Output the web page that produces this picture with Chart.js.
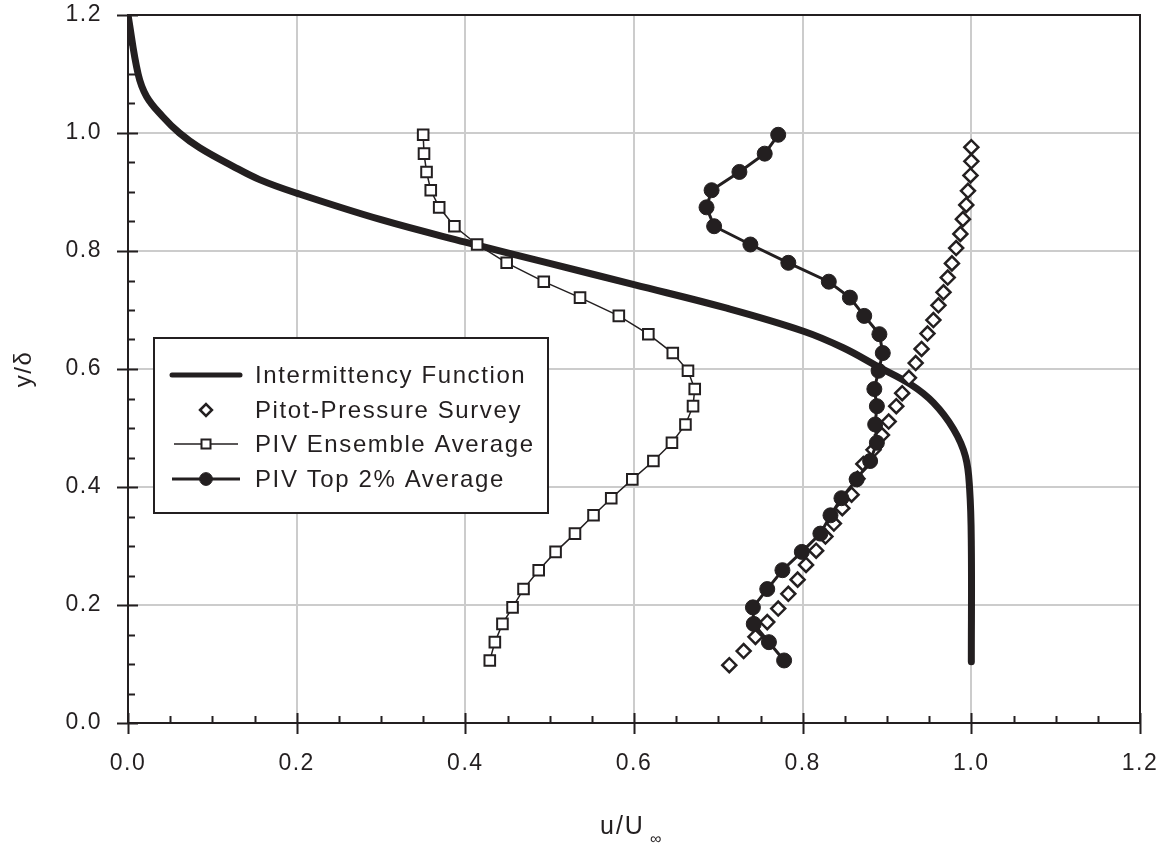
<!DOCTYPE html>
<html lang="en">
<head>
    <meta charset="UTF-8">
    <title>Velocity Profiles</title>
    <script src="https://cdn.jsdelivr.net/npm/chart.js"></script>
    <style>
        body { margin: 0; background: #fff; }
        canvas { display: block; }
    </style>
</head>
<body>
    <canvas id="profileChart" width="1163" height="846"></canvas>

    <script>
        // Intermittency function (solid thick curve)
        var intermU = [0, 0.012, 0.022, 0.041, 0.061, 0.085, 0.124, 0.156, 0.2, 0.3, 0.4, 0.5, 0.6, 0.71, 0.801, 0.848, 0.888, 0.928, 0.955, 0.979, 0.993, 0.998, 1.0, 1.0];
        var intermY = [1.2, 1.1, 1.062, 1.028, 1.0, 0.975, 0.944, 0.921, 0.898, 0.853, 0.815, 0.779, 0.743, 0.703, 0.664, 0.636, 0.605, 0.574, 0.543, 0.498, 0.452, 0.396, 0.30, 0.104];

        // Pitot-pressure survey (open diamonds)
        var pitotU = [1.000, 1.000, 0.999, 0.996, 0.994, 0.990, 0.987, 0.982, 0.977, 0.972, 0.967, 0.961, 0.955, 0.948, 0.941, 0.934, 0.926, 0.918, 0.911, 0.902, 0.894, 0.884, 0.872, 0.865, 0.858, 0.847, 0.837, 0.827, 0.816, 0.804, 0.794, 0.783, 0.771, 0.758, 0.744, 0.730, 0.713];
        var pitotY = [0.976, 0.952, 0.928, 0.902, 0.878, 0.854, 0.829, 0.805, 0.779, 0.755, 0.730, 0.708, 0.683, 0.660, 0.634, 0.610, 0.585, 0.559, 0.537, 0.511, 0.488, 0.463, 0.439, 0.414, 0.387, 0.364, 0.338, 0.316, 0.292, 0.268, 0.243, 0.219, 0.194, 0.171, 0.146, 0.122, 0.098];

        // PIV profiles share the same y/delta stations
        var pivY = [0.997, 0.965, 0.934, 0.903, 0.874, 0.842, 0.811, 0.780, 0.748, 0.721, 0.690, 0.659, 0.627, 0.597, 0.566, 0.537, 0.506, 0.475, 0.444, 0.413, 0.381, 0.352, 0.321, 0.290, 0.259, 0.227, 0.196, 0.168, 0.137, 0.106];
        var ensembleU = [0.350, 0.351, 0.354, 0.359, 0.369, 0.387, 0.414, 0.449, 0.493, 0.536, 0.582, 0.617, 0.646, 0.664, 0.672, 0.670, 0.661, 0.645, 0.623, 0.598, 0.573, 0.552, 0.530, 0.507, 0.487, 0.469, 0.456, 0.444, 0.435, 0.429];
        var top2U = [0.771, 0.755, 0.725, 0.692, 0.686, 0.695, 0.738, 0.783, 0.831, 0.856, 0.873, 0.891, 0.895, 0.890, 0.885, 0.888, 0.886, 0.888, 0.880, 0.864, 0.846, 0.833, 0.821, 0.799, 0.776, 0.758, 0.741, 0.742, 0.760, 0.778];

        var xTicks = [0, 0.2, 0.4, 0.6, 0.8, 1.0, 1.2];
        var yTicks = [0, 0.2, 0.4, 0.6, 0.8, 1.0, 1.2];

        var INK = "#231f20";
        var FONT = "'Liberation Sans', Arial, sans-serif";

        function toPoints(xs, ys) {
            return xs.map(function(x, i) { return { x: x, y: ys[i] }; });
        }

        // axis ticks (major crossing the axis, minor inside), frame, legend, x title
        var decorations = {
            id: "decorations",
            beforeDraw: function(chart) {
                chart.ctx.letterSpacing = "1.5px";
            },
            afterDraw: function(chart) {
                var ctx = chart.ctx;
                var area = chart.chartArea;
                var xs = chart.scales.x, ys = chart.scales.y;
                ctx.save();
                ctx.strokeStyle = INK;
                ctx.lineWidth = 2;

                // frame top & right
                ctx.beginPath();
                ctx.moveTo(area.left, area.top);
                ctx.lineTo(area.right, area.top);
                ctx.lineTo(area.right, area.bottom);
                ctx.stroke();

                ctx.beginPath();
                for (var i = 0; i <= 24; i++) {
                    var v = i * 0.05;
                    var px = Math.round(xs.getPixelForValue(v)) + 0.5;
                    var py = Math.round(ys.getPixelForValue(v)) + 0.5;
                    if (i % 4 === 0) {
                        ctx.moveTo(px, area.bottom - 10); ctx.lineTo(px, area.bottom + 11);
                        ctx.moveTo(area.left - 11, py); ctx.lineTo(area.left + 10, py);
                    } else {
                        ctx.moveTo(px, area.bottom - 7); ctx.lineTo(px, area.bottom);
                        ctx.moveTo(area.left, py); ctx.lineTo(area.left + 7, py);
                    }
                }
                ctx.stroke();

                // legend box
                var bx = 154, by = 338, bw = 394, bh = 175;
                ctx.fillStyle = "#fff";
                ctx.fillRect(bx, by, bw, bh);
                ctx.strokeRect(bx, by, bw, bh);

                var rows = [375, 410, 444, 479];
                var ds = chart.data.datasets;
                ctx.font = "24px " + FONT;
                ctx.letterSpacing = "1.6px";
                ctx.textBaseline = "middle";
                ctx.textAlign = "left";
                ctx.fillStyle = INK;
                rows.forEach(function(ry, k) {
                    var d = ds[k];
                    if (d.showLine) {
                        ctx.beginPath();
                        ctx.lineWidth = k === 0 ? 5 : d.borderWidth;
                        ctx.lineCap = k === 0 ? "round" : "butt";
                        ctx.moveTo(k === 2 ? 174 : 172, ry);
                        ctx.lineTo(k === 2 ? 238 : 240, ry);
                        ctx.stroke();
                    }
                    if (d.pointRadius > 0) {
                        ctx.lineWidth = d.pointBorderWidth;
                        ctx.fillStyle = d.pointBackgroundColor;
                        ctx.strokeStyle = d.pointBorderColor;
                        Chart.helpers.drawPoint(ctx, {
                            pointStyle: d.pointStyle,
                            radius: d.pointRadius * 0.85,
                            borderWidth: d.pointBorderWidth
                        }, 206, ry);
                        ctx.strokeStyle = INK;
                    }
                    ctx.fillStyle = INK;
                    ctx.fillText(d.label, 255, ry + 1);
                });

                // x axis title with subscript infinity
                ctx.font = "25px " + FONT;
                ctx.letterSpacing = "2px";
                ctx.textBaseline = "alphabetic";
                ctx.fillText("u/U", 600, 834);
                ctx.font = "16px " + FONT;
                ctx.letterSpacing = "0px";
                ctx.fillText("\u221e", 650, 844);
                ctx.restore();
            }
        };

        var profileChart = new Chart(document.getElementById("profileChart"), {
            type: "scatter",
            data: {
                datasets: [{
                    label: "Intermittency Function",
                    data: toPoints(intermU, intermY),
                    showLine: true,
                    borderColor: INK,
                    borderWidth: 7,
                    borderCapStyle: "round",
                    borderJoinStyle: "round",
                    tension: 0.4,
                    pointRadius: 0,
                    order: 3
                }, {
                    label: "Pitot-Pressure Survey",
                    data: toPoints(pitotU, pitotY),
                    showLine: false,
                    pointStyle: "rectRot",
                    pointRadius: 7,
                    pointBorderWidth: 2.5,
                    pointBackgroundColor: "#fff",
                    pointBorderColor: INK,
                    order: 2
                }, {
                    label: "PIV Ensemble Average",
                    data: toPoints(ensembleU, pivY),
                    showLine: true,
                    borderColor: INK,
                    borderWidth: 1.5,
                    tension: 0,
                    pointStyle: "rect",
                    pointRadius: 7.5,
                    pointBorderWidth: 2,
                    pointBackgroundColor: "#fff",
                    pointBorderColor: INK,
                    order: 1
                }, {
                    label: "PIV Top 2% Average",
                    data: toPoints(top2U, pivY),
                    showLine: true,
                    borderColor: INK,
                    borderWidth: 3,
                    tension: 0,
                    pointStyle: "circle",
                    pointRadius: 7.5,
                    pointBorderWidth: 1,
                    pointBackgroundColor: INK,
                    pointBorderColor: INK,
                    order: 0
                }]
            },
            options: {
                responsive: false,
                animation: false,
                events: [],
                layout: { padding: { top: 15, right: 23, left: 0, bottom: 0 } },
                plugins: {
                    legend: { display: false },
                    tooltip: { enabled: false }
                },
                scales: {
                    x: {
                        type: "linear",
                        min: 0,
                        max: 1.2,
                        afterFit: function(scale) {
                            scale.height = 123;
                            scale.paddingLeft = 0;
                            scale.paddingRight = 0;
                        },
                        afterBuildTicks: function(scale) {
                            scale.ticks = xTicks.map(function(v) { return { value: v }; });
                        },
                        ticks: {
                            callback: function(v) { return v.toFixed(1); },
                            font: { family: FONT, size: 23 },
                            color: INK,
                            padding: 27,
                            maxRotation: 0
                        },
                        grid: { color: "#cccccc", lineWidth: 2, drawTicks: false },
                        border: { color: INK, width: 2 }
                    },
                    y: {
                        type: "linear",
                        min: 0,
                        max: 1.2,
                        afterFit: function(scale) {
                            scale.width = 128;
                            scale.paddingTop = 0;
                            scale.paddingBottom = 0;
                        },
                        afterBuildTicks: function(scale) {
                            scale.ticks = yTicks.map(function(v) { return { value: v }; });
                        },
                        ticks: {
                            callback: function(v) { return v.toFixed(1); },
                            font: { family: FONT, size: 23 },
                            color: INK,
                            padding: 26
                        },
                        title: {
                            display: true,
                            text: "y/\u03b4",
                            font: { family: FONT, size: 24 },
                            color: INK,
                            padding: { top: 10, bottom: 0 }
                        },
                        grid: { color: "#cccccc", lineWidth: 2, drawTicks: false },
                        border: { color: INK, width: 2 }
                    }
                }
            },
            plugins: [decorations]
        });
    </script>
</body>
</html>
